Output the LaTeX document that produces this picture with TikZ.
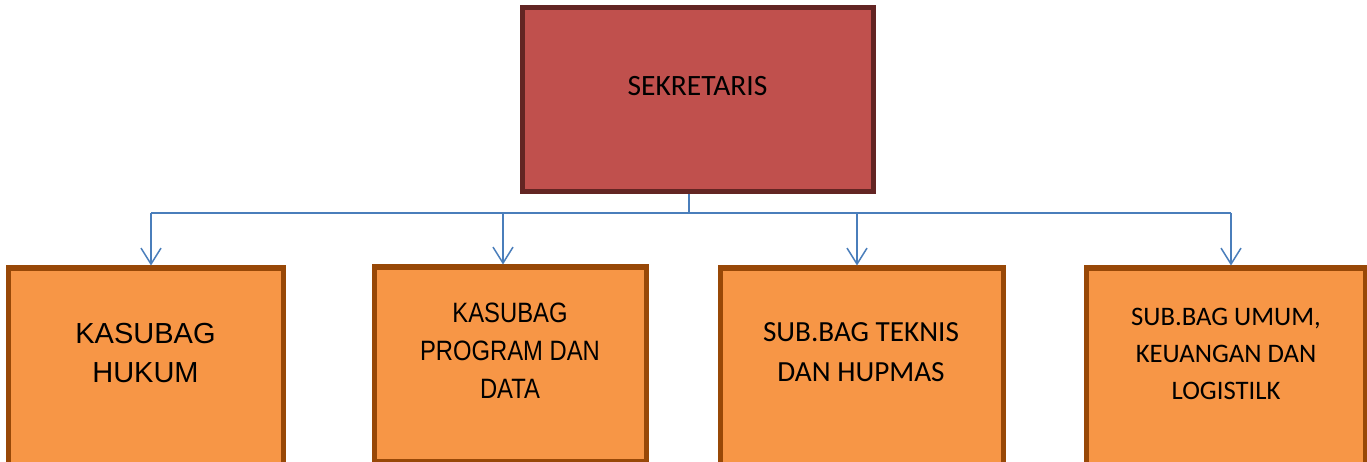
\documentclass[tikz,border=0pt]{standalone}
\usepackage{fontspec}
\setmainfont{Carlito}
\newfontfamily\arialf{Liberation Sans}
\newfontfamily\arialn[FakeStretch=0.85]{Liberation Sans}
\usetikzlibrary{arrows.meta}
\definecolor{topfill}{HTML}{C0504D}
\definecolor{topedge}{HTML}{632523}
\definecolor{subfill}{HTML}{F79646}
\definecolor{subedge}{HTML}{984807}
\definecolor{conncol}{HTML}{4A7EBB}
\tikzset{
  box/.style={rectangle, draw, line width=5pt, inner sep=0pt},
  topbox/.style={box, draw=topedge, fill=topfill},
  subbox/.style={box, draw=subedge, fill=subfill},
  lbl/.style={anchor=base, align=center, inner sep=0pt, text=black},
  conn/.style={draw=conncol, line width=1.5pt},
  arr/.style={conn, -{Straight Barb[length=16pt,width=20pt,line width=1.5pt]}}
}
\begin{document}
\begin{tikzpicture}[x=1pt,y=-1pt]
\path[use as bounding box, clip] (0,0) rectangle (1367,462);
\fill[white] (0,0) rectangle (1367,462);
% boxes (outer edges in px)
\node[topbox, minimum width=351pt, minimum height=184pt] (top) at (697.5,100) {};
\node[subbox, minimum width=275pt, minimum height=212pt] (b1) at (145.5,374) {};
\node[subbox, minimum width=272pt, minimum height=194pt] (b2) at (510,364) {};
\node[subbox, minimum width=283pt, minimum height=212pt] (b3) at (861.5,374) {};
\node[subbox, minimum width=279pt, minimum height=212pt] (b4) at (1225.5,374) {};
% labels (anchored at last baseline)
\node[lbl, font=\fontsize{29.5}{39}\selectfont] (t0) at (697.5,96) {SEKRETARIS};
\node[lbl, font=\arialf\fontsize{29}{39}\selectfont] (t1) at (145.5,382) {KASUBAG\\HUKUM};
\node[lbl, font=\arialn\fontsize{28}{38}\selectfont] (t2) at (510,398) {KASUBAG\\PROGRAM DAN\\DATA};
\node[lbl, font=\fontsize{29.2}{40}\selectfont] (t3) at (861,381) {SUB.BAG TEKNIS\\DAN HUPMAS};
\node[lbl, font=\fontsize{26.7}{37}\selectfont] (t4) at (1226,399) {SUB.BAG UMUM,\\KEUANGAN DAN\\LOGISTILK};
% connectors
\coordinate (j) at (689,213);
\coordinate (h1) at (151,213);
\coordinate (h2) at (503,213);
\coordinate (h3) at (857,213);
\coordinate (h4) at (1231,213);
\draw[conn] (top.south -| j) -- (j);
\draw[conn] (h1) -- (h4);
\draw[arr] (h1) -- (h1 |- b1.north);
\draw[arr] (h2) -- (h2 |- b2.north);
\draw[arr] (h3) -- (h3 |- b3.north);
\draw[arr] (h4) -- (h4 |- b4.north);
\end{tikzpicture}
\end{document}
